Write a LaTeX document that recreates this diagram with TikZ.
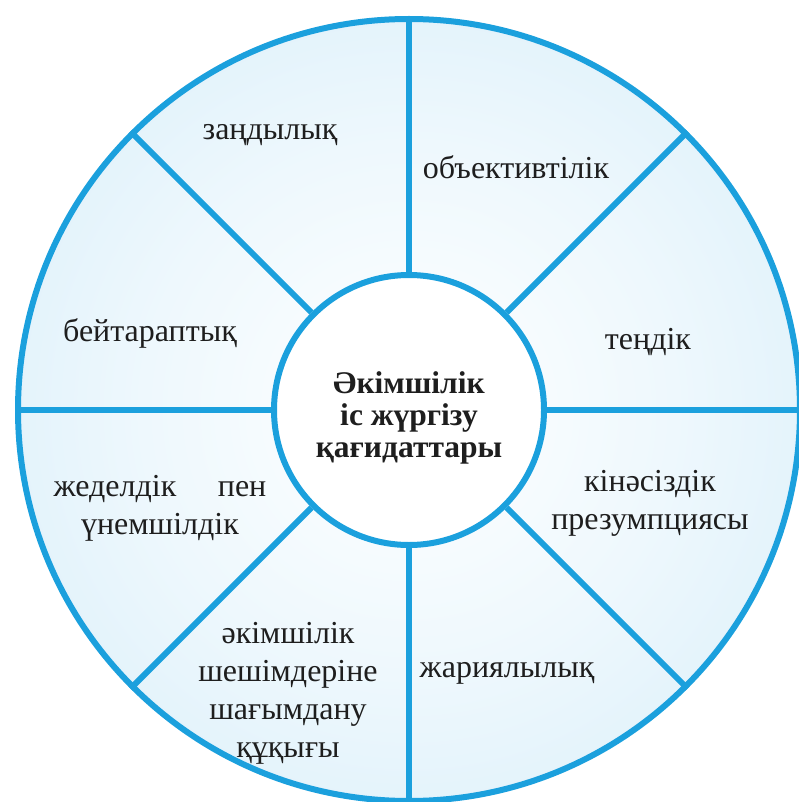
\documentclass[tikz,border=0pt]{standalone}
\usepackage{fontspec}
\setmainfont{Liberation Serif}

\definecolor{rim}{HTML}{1BA0DD}
\definecolor{ink}{HTML}{1E1E1E}
\definecolor{paleA}{HTML}{EEF8FD}
\definecolor{paleB}{HTML}{D9EEF9}
\definecolor{paleC}{HTML}{BFE1F4}
\pgfdeclareradialshading{wheelshade}{\pgfpoint{0bp}{0bp}}{color(0bp)=(white); color(17bp)=(paleA); color(34bp)=(paleB); color(50bp)=(paleC)}

\begin{document}
\begin{tikzpicture}[x=1pt,y=-1pt,
  spoke/.style={draw=rim,line width=6pt},
  principle/.style={text=ink,align=center,font=\fontsize{32}{38}\selectfont},
  core/.style={circle,draw=rim,line width=6pt,fill=white,minimum size=270pt,inner sep=0pt},
  title/.style={text=ink,align=center,font=\bfseries\fontsize{31.5}{32}\selectfont},
  rimline/.style={circle,draw=rim,line width=6pt,minimum size=782pt,inner sep=0pt}]

\useasboundingbox (0,0) rectangle (798,802);
\shade[shading=wheelshade] (409,410) circle (391);

\node[rimline] (wheel) at (409,410) {};
\node[core] (hub) at (409,410) {};
\node[title] (hubtext) at (409,418) {Әкімшілік\\іс жүргізу\\қағидаттары};

\foreach \a in {0,45,...,315}
  \draw[spoke] (hub.\a) -- (wheel.\a);

\node[principle] (legality) at (270,135) {заңдылық};
\node[principle] (objectivity) at (516,167) {объективтілік};
\node[principle] (equality) at (648,342) {теңдік};
\node[principle] (innocence) at (650,503) {кінәсіздік\\презумпциясы};
\node[principle] (publicity) at (507,673) {жариялылық};
\node[principle] (appeal) at (288,693) {әкімшілік\\шешімдеріне\\шағымдану\\құқығы};
\node[principle] (speed) at (160,508) {жеделдік\hspace{1.3em}пен\\үнемшілдік};
\node[principle] (neutrality) at (150,333) {бейтараптық};
\end{tikzpicture}
\end{document}
